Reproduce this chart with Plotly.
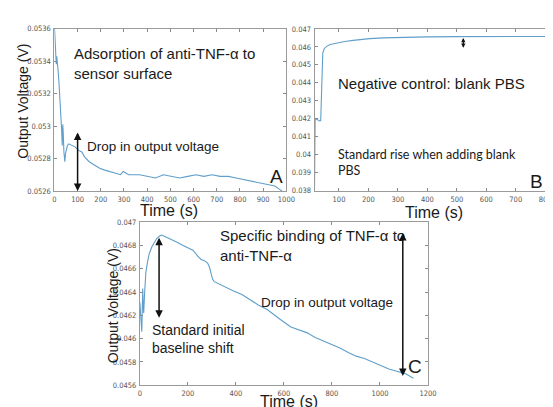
import plotly.graph_objects as go

# ---------------- data ----------------
a_time = [0, 3, 6, 8, 10, 13, 16, 20, 24, 27, 31, 34, 36, 38, 41, 45, 48, 51, 56, 62, 75, 90,
          104, 118, 130, 150, 172, 195, 214, 240, 269, 285, 297, 320, 367, 400, 436, 470, 505,
          540, 575, 610, 644, 680, 714, 750, 783, 820, 853, 890, 922, 950, 971, 990, 1000]
a_volt = [0.05362, 0.05352, 0.05346, 0.05338, 0.05343, 0.05340, 0.05334, 0.05326, 0.05318,
          0.05310, 0.05298, 0.05288, 0.05301, 0.05296, 0.05284, 0.05278, 0.05283, 0.05286,
          0.05288, 0.05289, 0.05288, 0.05287, 0.05285, 0.05284, 0.05281, 0.05278, 0.05276,
          0.05274, 0.05273, 0.05272, 0.05271, 0.05270, 0.05272, 0.05270, 0.05270, 0.05269,
          0.05268, 0.05270, 0.05269, 0.05268, 0.05269, 0.05270, 0.05269, 0.05270, 0.05269,
          0.05269, 0.05268, 0.05267, 0.05266, 0.05265, 0.05264, 0.05263, 0.05261, 0.05259,
          0.05257]

b_time = [17, 18, 19, 22, 28, 34, 38, 40, 42, 45, 50, 58, 70, 92, 120, 148, 175, 204, 250,
          304, 400, 500, 600, 700, 823]
b_volt = [0.0381, 0.0405, 0.0419, 0.0420, 0.04192, 0.04188, 0.0419, 0.0435, 0.0450, 0.04565,
          0.04590, 0.04603, 0.04613, 0.04622, 0.04630, 0.04636, 0.04642, 0.04646, 0.04650,
          0.04653, 0.04656, 0.04657, 0.04658, 0.04658, 0.04658]

c_time = [0, 3, 6, 8, 10, 12, 14, 16, 20, 25, 32, 39, 50, 60, 70, 81, 90, 102, 125, 153, 180,
          200, 221, 241, 255, 269, 282, 289, 296, 303, 310, 330, 357, 390, 425, 460, 493, 530,
          561, 595, 629, 665, 697, 730, 765, 800, 833, 870, 901, 935, 969, 1000, 1037, 1070,
          1105, 1139]
c_volt = [0.04631, 0.04618, 0.04608, 0.04606, 0.04625, 0.04643, 0.04628, 0.04622, 0.04640,
          0.04657, 0.04666, 0.04673, 0.04679, 0.04683, 0.04686, 0.04688, 0.04689, 0.04688,
          0.04686, 0.04683, 0.04680, 0.04678, 0.04676, 0.04671, 0.04668, 0.04667, 0.04665,
          0.04662, 0.04656, 0.04651, 0.04649, 0.04647, 0.04644, 0.04641, 0.04638, 0.04633,
          0.04629, 0.04625, 0.04620, 0.04615, 0.04610, 0.04607, 0.04605, 0.04601, 0.04598,
          0.04595, 0.04592, 0.04588, 0.04585, 0.04583, 0.04580, 0.04577, 0.04574, 0.04572,
          0.04570, 0.04566]

a_xticks = [0, 100, 200, 300, 400, 500, 600, 700, 800, 900, 1000]
a_yticks = [0.0526, 0.0528, 0.0530, 0.0532, 0.0534, 0.0536]
a_ylabels = ["0.0526", "0.0528", "0.053", "0.0532", "0.0534", "0.0536"]

b_xticks = [100, 200, 300, 400, 500, 600, 700, 800]
b_yticks = [0.038, 0.039, 0.040, 0.041, 0.042, 0.043, 0.044, 0.045, 0.046, 0.047]
b_ylabels = ["0.038", "0.039", "0.04", "0.041", "0.042", "0.043", "0.044", "0.045", "0.046", "0.047"]

c_xticks = [0, 200, 400, 600, 800, 1000, 1200]
c_yticks = [0.0456, 0.0458, 0.0460, 0.0462, 0.0464, 0.0466, 0.0468, 0.0470]
c_ylabels = ["0.0456", "0.0458", "0.046", "0.0462", "0.0464", "0.0466", "0.0468", "0.047"]

# ---------------- layout helpers ----------------
W, H = 553, 407
def px(x):
    return x / W
def py(y):
    return 1 - y / H

LINE = "#5f9fca"
TICKFONT = dict(family="Liberation Sans Narrow, Arial Narrow, DejaVu Sans Condensed, Liberation Sans",
                size=7.5, color="#555555")

def axis(domain, rng, vals, texts, anchor):
    return dict(domain=domain, range=rng, tickvals=vals, ticktext=texts, anchor=anchor,
                ticks="inside", ticklen=3, tickcolor="#8a8a8a", showline=True,
                linecolor="#9a9a9a", linewidth=1, mirror="ticks", showgrid=False,
                zeroline=False, tickfont=TICKFONT, ticklabelstandoff=1)

fig = go.Figure()
fig.add_trace(go.Scatter(x=a_time, y=a_volt, mode="lines", line=dict(color=LINE, width=1.1),
                         xaxis="x", yaxis="y", showlegend=False))
fig.add_trace(go.Scatter(x=b_time, y=b_volt, mode="lines", line=dict(color=LINE, width=1.1),
                         xaxis="x2", yaxis="y2", showlegend=False))
fig.add_trace(go.Scatter(x=c_time, y=c_volt, mode="lines", line=dict(color=LINE, width=1.1),
                         xaxis="x3", yaxis="y3", showlegend=False))

layout = dict(
    width=W, height=H, margin=dict(l=0, r=0, t=0, b=0),
    paper_bgcolor="white", plot_bgcolor="white", showlegend=False,
    xaxis=axis([px(45.3), px(282)], [0, 1000], a_xticks, [str(v) for v in a_xticks], "y"),
    yaxis=axis([py(183), py(17)], [0.0526, 0.0536], a_yticks, a_ylabels, "x"),
    xaxis2=axis([px(310.7), 1.0], [17, 823], b_xticks, [str(v) for v in b_xticks], "y2"),
    yaxis2=axis([py(182.7), py(17.3)], [0.038, 0.047], b_yticks, b_ylabels, "x2"),
    xaxis3=axis([px(132.5), px(426.5)], [0, 1200], c_xticks, [str(v) for v in c_xticks], "y3"),
    yaxis3=axis([py(381.7), py(215)], [0.0456, 0.047], c_yticks, c_ylabels, "x3"),
)
fig.update_layout(**layout)

MAIN = "Liberation Sans, Arial"
ann = []

def text(x, y, t, size, xanchor="left", family=MAIN, angle=0):
    ann.append(dict(x=px(x), y=py(y), xref="paper", yref="paper", text=t, showarrow=False,
                    xanchor=xanchor, yanchor="middle", textangle=angle, align="left",
                    font=dict(family=family, size=size, color="#1a1a1a")))

# panel A
text(63, 53, "Adsorption of anti-TNF-α to<br>sensor surface", 15)
text(77, 138, "Drop in output voltage", 13.5)
text(272, 168, "A", 19, "center")
text(13, 91, "Output Voltage (V)", 14, "center", angle=-90)
text(162, 203, "Time (s)", 16, "center")
# panel B
text(333, 73, "Negative control: blank PBS", 15)
text(333, 153.5, "Standard rise when adding blank<br>PBS", 12.5, family="Lato, Open Sans")
text(537, 173, "B", 19, "center")
text(433, 205, "Time (s)", 16, "center")
# panel C
text(212, 239, "Specific binding of TNF-α to<br>anti-TNF-α", 15)
text(143, 334.5, "Standard initial<br>baseline shift", 14)
text(254, 297, "Drop in output voltage", 13.5)
text(413, 363, "C", 19, "center")
text(105, 300, "Output Voltage (V)", 14, "center", angle=-90)
text(285, 398, "Time (s)", 16, "center")

def darrow(xr, yr, x, y0, y1, size=1.0, width=1.5):
    ann.append(dict(x=x, y=y0, ax=x, ay=y1, xref=xr, yref=yr, axref=xr, ayref=yr, text="",
                    showarrow=True, arrowhead=2, arrowside="end+start", arrowsize=size,
                    arrowwidth=width, arrowcolor="#111111", startarrowhead=2,
                    startarrowsize=size))

darrow("x", "y", 100, 0.0526, 0.05297)
darrow("x2", "y2", 522, 0.04595, 0.04658, 0.7, 1.2)
darrow("x3", "y3", 80, 0.04618, 0.04688)
darrow("x3", "y3", 1095, 0.04568, 0.04692)

fig.update_layout(annotations=ann)
fig.write_html("out.html")
